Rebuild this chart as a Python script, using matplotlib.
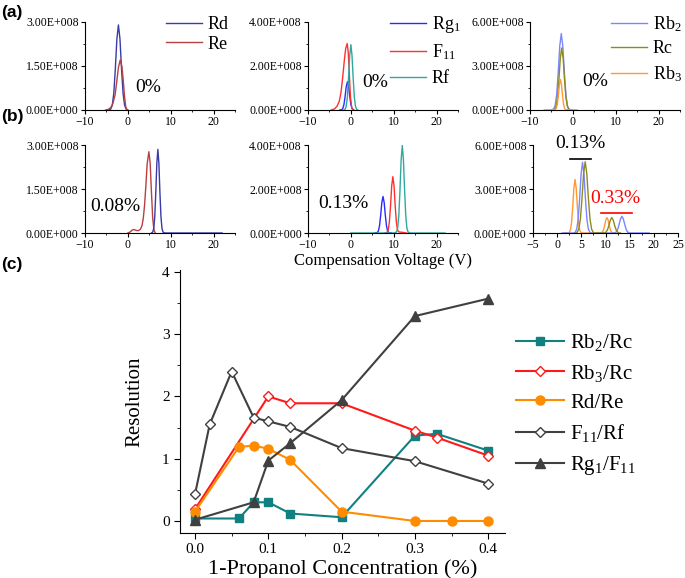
import numpy as np
import matplotlib
matplotlib.use("Agg")
import matplotlib.pyplot as plt
from matplotlib.ticker import FixedLocator, MultipleLocator, FuncFormatter

plt.rcParams["font.family"] = ["Liberation Serif", "DejaVu Serif"]
plt.rcParams["mathtext.fontset"] = "custom"
plt.rcParams["mathtext.rm"] = "Liberation Serif"
plt.rcParams["mathtext.it"] = "Liberation Serif:italic"

# ---- (a) 0% traces, intensity in units of 1e8 ----
a1_rd_x = [-4.5, -4.0, -3.64, -3.28, -2.92, -2.56, -2.2, -1.84, -1.48, -1.12, -0.76, -0.4, 0.0]
a1_rd_y = [0, 0.03, 0.16, 0.57, 1.41, 2.42, 2.9, 2.42, 1.41, 0.57, 0.16, 0.03, 0]
a1_re_x = [-5.2, -4.6, -4.0, -3.5, -3.0, -2.6, -2.2, -1.8, -1.4, -1.1, -0.8, -0.5, -0.2]
a1_re_y = [0, 0.02, 0.08, 0.22, 0.5, 0.95, 1.45, 1.7, 1.5, 1.05, 0.5, 0.12, 0]

a2_rg_x = [-2.6, -2.15, -1.88, -1.61, -1.34, -1.07, -0.8, -0.53, -0.26, 0.01, 0.28, 0.7]
a2_rg_y = [0, 0.01, 0.07, 0.25, 0.62, 1.07, 1.28, 1.07, 0.62, 0.25, 0.07, 0]
a2_f11_x = [-4.6, -3.8, -3.2, -2.7, -2.3, -1.9, -1.5, -1.2, -0.85, -0.6, -0.35, -0.1, 0.2, 0.5]
a2_f11_y = [0, 0.05, 0.18, 0.4, 0.8, 1.5, 2.3, 2.8, 3.02, 2.6, 1.6, 0.6, 0.1, 0]
a2_rf_x = [-1.6, -1.35, -1.08, -0.81, -0.54, -0.27, 0, 0.27, 0.54, 0.81, 1.08, 1.35, 1.6]
a2_rf_y = [0, 0.03, 0.17, 0.59, 1.45, 2.48, 2.97, 2.48, 1.45, 0.59, 0.17, 0.03, 0]

a3_rb2_x = [-5.0, -4.5, -4.14, -3.78, -3.42, -3.06, -2.7, -2.34, -1.98, -1.62, -1.26, -0.9, -0.4]
a3_rb2_y = [0, 0.06, 0.29, 1.03, 2.54, 4.35, 5.21, 4.35, 2.54, 1.03, 0.29, 0.06, 0]
a3_rc_x = [-4.8, -4.25, -3.92, -3.59, -3.26, -2.93, -2.6, -2.27, -1.94, -1.61, -1.28, -0.95, -0.4]
a3_rc_y = [0, 0.05, 0.24, 0.84, 2.06, 3.53, 4.23, 3.53, 2.06, 0.84, 0.24, 0.05, 0]
a3_rb3_x = [-6.7, -4.1, -3.86, -3.62, -3.38, -3.14, -2.9, -2.66, -2.42, -2.18, -1.94, -1.7, 1.0]
a3_rb3_y = [0, 0.02, 0.12, 0.41, 1.01, 1.74, 2.08, 1.74, 1.01, 0.41, 0.12, 0.02, 0]

# ---- (b) traces with 1-propanol ----
b1_re_x = [0.0, 0.6, 1.0, 1.4, 1.9, 2.4, 2.9, 3.3, 3.6, 3.9, 4.2, 4.5, 4.9, 5.2, 5.5, 5.8, 6.1, 6.4]
b1_re_y = [0, 0.04, 0.1, 0.12, 0.09, 0.08, 0.12, 0.25, 0.5, 0.95, 1.6, 2.35, 2.77, 2.4, 1.4, 0.5, 0.1, 0]
b1_rd_x = [5.5, 5.8, 6.04, 6.28, 6.52, 6.76, 7.0, 7.24, 7.48, 7.72, 7.96, 8.2, 8.6, 22.0]
b1_rd_y = [0, 0.03, 0.16, 0.56, 1.39, 2.38, 2.85, 2.38, 1.39, 0.56, 0.16, 0.03, 0, 0]

b2_rg_x = [5.5, 6.15, 6.42, 6.69, 6.96, 7.23, 7.5, 7.77, 8.04, 8.31, 8.58, 8.85, 9.5]
b2_rg_y = [0, 0.02, 0.09, 0.33, 0.81, 1.39, 1.66, 1.39, 0.81, 0.33, 0.09, 0.02, 0]
b2_f11_x = [8.0, 8.45, 8.72, 8.99, 9.26, 9.53, 9.8, 10.07, 10.34, 10.61, 10.88, 11.15, 12.0, 13.0]
b2_f11_y = [0, 0.03, 0.14, 0.51, 1.25, 2.14, 2.56, 2.14, 1.25, 0.51, 0.14, 0.05, 0.03, 0]
b2_rf_x = [0, 10.0, 10.65, 10.92, 11.19, 11.46, 11.73, 12.0, 12.27, 12.54, 12.81, 13.08, 13.35, 14.0, 22.0]
b2_rf_y = [0, 0, 0.04, 0.22, 0.79, 1.94, 3.32, 3.98, 3.32, 1.94, 0.79, 0.22, 0.04, 0, 0]

b3_rb2_x = [1.0, 3.45, 3.75, 4.05, 4.35, 4.65, 4.95, 5.25, 5.55, 5.85, 6.15, 6.45, 6.75, 7.05,
            11.6, 11.9, 12.2, 12.5, 12.8, 13.1, 13.4, 13.7, 14.0, 14.3, 14.6, 14.9, 15.2, 19.0]
b3_rb2_y = [0, 0, 0.05, 0.27, 0.95, 2.35, 4.02, 4.82, 4.02, 2.35, 0.95, 0.27, 0.05, 0,
            0, 0.01, 0.06, 0.23, 0.56, 0.95, 1.14, 0.95, 0.56, 0.23, 0.06, 0.01, 0, 0]
b3_rc_x = [3.8, 4.15, 4.48, 4.81, 5.14, 5.47, 5.8, 6.13, 6.46, 6.79, 7.12, 7.45, 7.8,
           9.5, 9.8, 10.1, 10.4, 10.7, 11.0, 11.3, 11.6, 11.9, 12.2, 12.5, 12.8, 13.1]
b3_rc_y = [0, 0.05, 0.27, 0.96, 2.37, 4.06, 4.86, 4.06, 2.37, 0.96, 0.27, 0.05, 0,
           0, 0.01, 0.06, 0.21, 0.51, 0.88, 1.05, 0.88, 0.51, 0.21, 0.06, 0.01, 0]
b3_rb3_x = [1.5, 2.26, 2.5, 2.74, 2.98, 3.22, 3.46, 3.7, 3.94, 4.18, 4.42, 4.66, 4.9, 5.14,
            8.86, 9.1, 9.34, 9.58, 9.82, 10.06, 10.3, 10.54, 10.78, 11.02, 11.26, 11.5, 11.74]
b3_rb3_y = [0, 0, 0.04, 0.20, 0.72, 1.78, 3.05, 3.65, 3.05, 1.78, 0.72, 0.20, 0.04, 0,
            0, 0.01, 0.06, 0.21, 0.51, 0.88, 1.05, 0.88, 0.51, 0.21, 0.06, 0.01, 0]

# group markers in b3: (x0, x1, y) and label positions
b3_group_lo = [2.6, 7.1, 5.02]
b3_group_hi = [9.0, 15.5, 1.37]

# ---- (c) resolution vs concentration ----
rb2_conc = [0, 0.06, 0.08, 0.1, 0.13, 0.2, 0.3, 0.33, 0.4]
rb2_res = [0.04, 0.04, 0.3, 0.3, 0.12, 0.06, 1.37, 1.4, 1.13]
rb3_conc = [0, 0.1, 0.13, 0.2, 0.3, 0.33, 0.4]
rb3_res = [0.19, 2.0, 1.89, 1.89, 1.45, 1.34, 1.05]
rd_conc = [0, 0.06, 0.08, 0.1, 0.13, 0.2, 0.3, 0.35, 0.4]
rd_res = [0.15, 1.19, 1.21, 1.16, 0.98, 0.15, 0.0, 0.0, 0.0]
f11_conc = [0, 0.02, 0.05, 0.08, 0.1, 0.13, 0.2, 0.3, 0.4]
f11_res = [0.43, 1.55, 2.4, 1.66, 1.6, 1.51, 1.17, 0.96, 0.6]
rg_conc = [0, 0.08, 0.1, 0.13, 0.2, 0.3, 0.4]
rg_res = [0.02, 0.3, 0.97, 1.25, 1.94, 3.29, 3.57]

W, H = 685, 578
fig = plt.figure(figsize=(W / 100, H / 100), dpi=100)


def px_axes(x0, y0, x1, y1):
    return fig.add_axes([x0 / W, 1 - y1 / H, (x1 - x0) / W, (y1 - y0) / H])


def sci(v, pos):
    if v == 0:
        return "0.00E+000"
    return f"{v / 1e8:.2f}E+008"


def style_small(ax, ymax, xlim, xmajor):
    for s in ("top", "right"):
        ax.spines[s].set_visible(False)
    ax.set_xlim(*xlim)
    ax.set_ylim(0, ymax * 1e8)
    ax.xaxis.set_major_locator(MultipleLocator(xmajor))
    ax.xaxis.set_minor_locator(MultipleLocator(xmajor / 2))
    ax.yaxis.set_major_locator(FixedLocator([0, ymax / 2 * 1e8, ymax * 1e8]))
    ax.yaxis.set_minor_locator(FixedLocator([ymax / 4 * 1e8, ymax * 3 / 4 * 1e8]))
    ax.yaxis.set_major_formatter(FuncFormatter(sci))
    ax.tick_params(which="both", direction="out", labelsize=8.5, pad=1.5)
    ax.tick_params(which="major", length=3)
    ax.tick_params(which="minor", length=1.5)


def trace(ax, x, y, color, label=None):
    ax.plot(x, np.array(y) * 1e8, color=color, lw=1.0, label=label)


c_rd, c_re = "#3a3aa8", "#b84040"
c_rg, c_f11, c_rf = "#2a2aff", "#ff3030", "#30a8a0"
c_rb2, c_rc, c_rb3 = "#7b86ff", "#8c8c1e", "#ff9933"

a1 = px_axes(85, 22, 235, 110)
a2 = px_axes(308, 22, 458, 110)
a3 = px_axes(530, 22, 680, 110)
b1 = px_axes(85, 145, 235, 233)
b2 = px_axes(308, 145, 458, 233)
b3 = px_axes(533, 145, 678, 233)

trace(a1, a1_rd_x, a1_rd_y, c_rd, "Rd")
trace(a1, a1_re_x, a1_re_y, c_re, "Re")
trace(a2, a2_rg_x, a2_rg_y, c_rg, r"Rg$_1$")
trace(a2, a2_f11_x, a2_f11_y, c_f11, r"F$_{11}$")
trace(a2, a2_rf_x, a2_rf_y, c_rf, "Rf")
trace(a3, a3_rb2_x, a3_rb2_y, c_rb2, r"Rb$_2$")
trace(a3, a3_rc_x, a3_rc_y, c_rc, "Rc")
trace(a3, a3_rb3_x, a3_rb3_y, c_rb3, r"Rb$_3$")

trace(b1, b1_re_x, b1_re_y, c_re)
trace(b1, b1_rd_x, b1_rd_y, c_rd)
trace(b2, b2_rg_x, b2_rg_y, c_rg)
trace(b2, b2_f11_x, b2_f11_y, c_f11)
trace(b2, b2_rf_x, b2_rf_y, c_rf)
trace(b3, b3_rb3_x, b3_rb3_y, c_rb3)
trace(b3, b3_rb2_x, b3_rb2_y, c_rb2)
trace(b3, b3_rc_x, b3_rc_y, c_rc)

style_small(a1, 3, (-10, 25), 10)
style_small(a2, 4, (-10, 25), 10)
style_small(a3, 6, (-10, 25), 10)
style_small(b1, 3, (-10, 25), 10)
style_small(b2, 4, (-10, 25), 10)
style_small(b3, 6, (-5, 25), 5)
b3.xaxis.set_minor_locator(MultipleLocator(2.5))

big = 14
a1.text(0.335, 0.26, "0%", transform=a1.transAxes, fontsize=big, va="center")
a2.text(0.36, 0.31, "0%", transform=a2.transAxes, fontsize=big, va="center")
a3.text(0.35, 0.32, "0%", transform=a3.transAxes, fontsize=big, va="center")
b1.text(0.035, 0.30, "0.08%", transform=b1.transAxes, fontsize=big, va="center")
b2.text(0.067, 0.33, "0.13%", transform=b2.transAxes, fontsize=big, va="center")

b3.plot(b3_group_lo[:2], [b3_group_lo[2] * 1e8] * 2, color="black", lw=1.2, clip_on=False)
b3.plot(b3_group_hi[:2], [b3_group_hi[2] * 1e8] * 2, color="red", lw=1.2, clip_on=False)
b3.text(sum(b3_group_lo[:2]) / 2, 6.12e8, "0.13%", fontsize=big, ha="center", va="center")
b3.text(sum(b3_group_hi[:2]) / 2 - 0.2, 2.35e8, "0.33%", fontsize=big, ha="center", va="center",
        color="red")

for ax, x, y, sp in ((a1, 166, 16, 0.15), (a2, 390, 14, 0.43), (a3, 611, 14, 0.37)):
    ax.legend(loc="upper left", bbox_to_anchor=(x / W, 1 - y / H), bbox_transform=fig.transFigure,
              frameon=False, fontsize=13, handlelength=2.0, handletextpad=0.3,
              labelspacing=sp, borderpad=0, borderaxespad=0)

b2.set_xlabel("Compensation Voltage (V)", fontsize=12, labelpad=1)

for lab, y in (("(a)", 12), ("(b)", 116), ("(c)", 265)):
    fig.text(0.002, 1 - y / H, lab, fontsize=12.5, fontweight="bold",
             family="Liberation Sans", va="center")

# ---- (c) ----
c = px_axes(180, 270, 505, 533)
c.plot(rb2_conc, rb2_res, "-s", color="#108080", lw=1.5, ms=6, label=r"Rb$_2$/Rc")
c.plot(rb3_conc, rb3_res, "-D", color="#ff1a1a", mfc="white", mew=1.0, lw=1.5, ms=5.5,
       label=r"Rb$_3$/Rc")
c.plot(rd_conc, rd_res, "-o", color="#ff8c00", lw=1.5, ms=6.5, label="Rd/Re")
c.plot(f11_conc, f11_res, "-D", color="#404040", mfc="white", mew=1.0, lw=1.5, ms=5.5,
       label=r"F$_{11}$/Rf")
c.plot(rg_conc, rg_res, "-^", color="#404040", lw=1.5, ms=7, label=r"Rg$_1$/F$_{11}$")
for s in ("top", "right"):
    c.spines[s].set_visible(False)
c.set_xlim(-0.0205, 0.423)
c.set_ylim(-0.193, 4.03)
c.xaxis.set_major_locator(MultipleLocator(0.1))
c.xaxis.set_minor_locator(MultipleLocator(0.05))
c.yaxis.set_major_locator(MultipleLocator(1))
c.yaxis.set_minor_locator(MultipleLocator(0.5))
c.xaxis.set_major_formatter(FuncFormatter(lambda v, p: f"{v:.1f}"))
c.tick_params(which="both", direction="out", labelsize=11)
c.tick_params(which="major", length=4)
c.tick_params(which="minor", length=2)
c.set_xlabel("1-Propanol Concentration (%)", fontsize=16, labelpad=2)
c.set_ylabel("Resolution", fontsize=15, labelpad=13)
c.legend(loc="upper left", bbox_to_anchor=(516 / W, 1 - 332 / H), bbox_transform=fig.transFigure,
         frameon=False, fontsize=15, handlelength=2.3, handletextpad=0.3, labelspacing=0.46,
         borderpad=0, borderaxespad=0)

fig.savefig("out.png", dpi=100)
